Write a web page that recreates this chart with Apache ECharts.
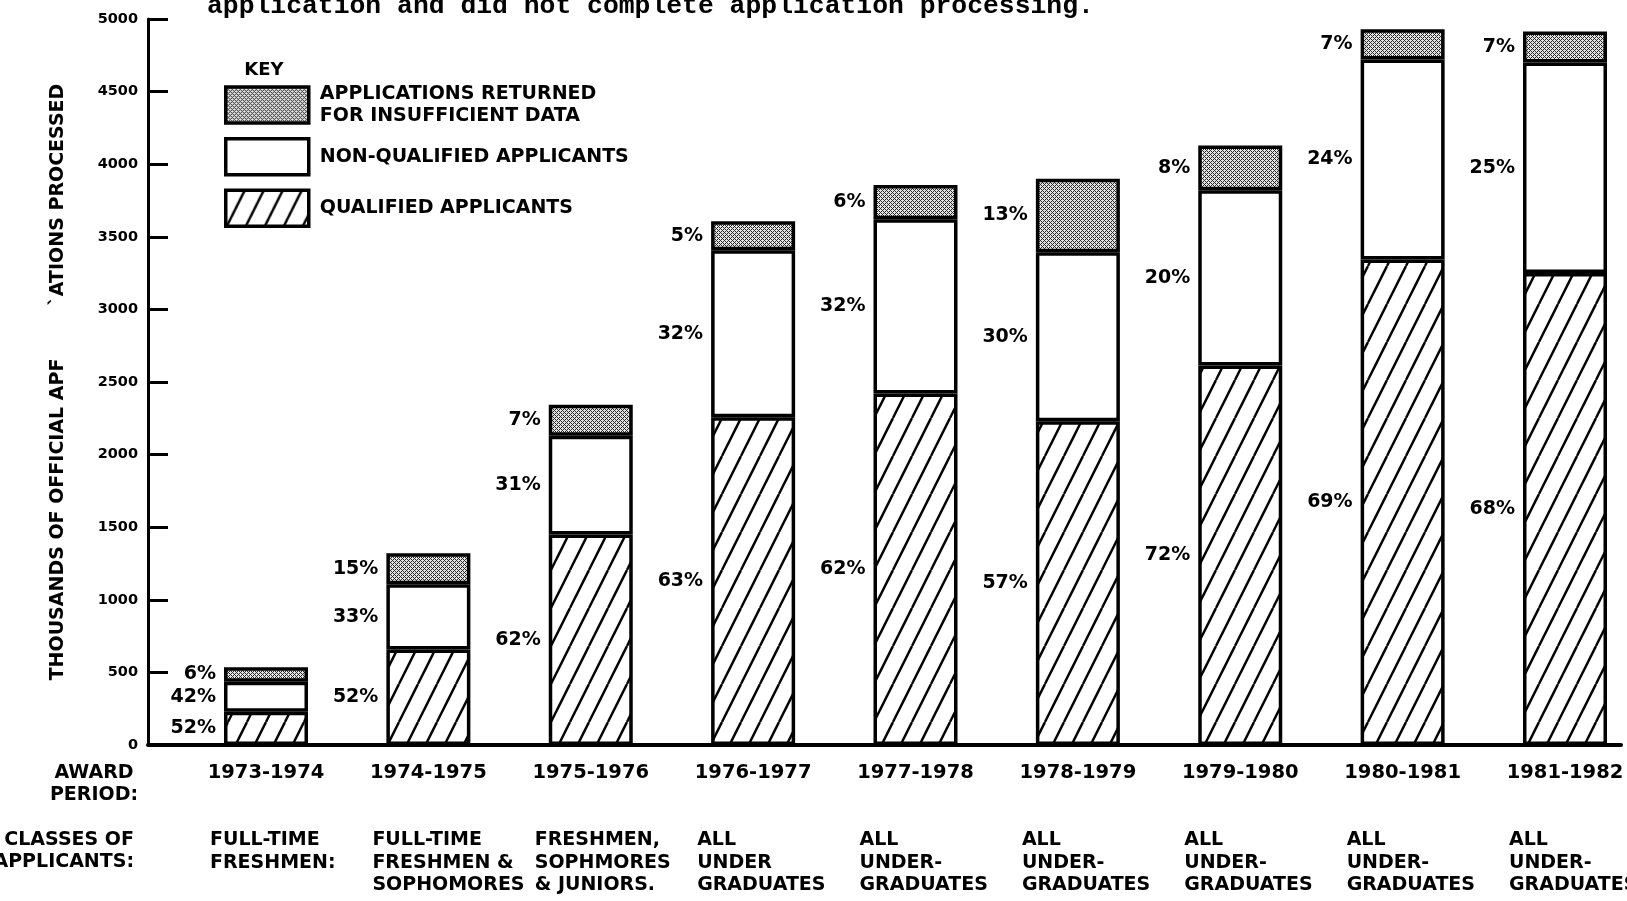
<!DOCTYPE html>
<html><head><meta charset="utf-8">
<script src="https://cdn.jsdelivr.net/npm/echarts@6/dist/echarts.min.js"></script>
<style>html,body{margin:0;padding:0;background:#fff}#c{width:1627px;height:901px}</style>
</head><body><div id="c"></div>
<script>
// ---- data ----
const periods = ['1973-1974','1974-1975','1975-1976','1976-1977','1977-1978','1978-1979','1979-1980','1980-1981','1981-1982'];
const classes = [
  ['FULL-TIME','FRESHMEN:'],
  ['FULL-TIME','FRESHMEN &','SOPHOMORES'],
  ['FRESHMEN,','SOPHMORES','& JUNIORS.'],
  ['ALL','UNDER','GRADUATES'],
  ['ALL','UNDER-','GRADUATES'],
  ['ALL','UNDER-','GRADUATES'],
  ['ALL','UNDER-','GRADUATES'],
  ['ALL','UNDER-','GRADUATES'],
  ['ALL','UNDER-','GRADUATES']
];
const qualified    = [229, 657, 1450, 2257, 2421, 2229, 2614, 3343, 3250];
const nonQualified = [207, 450,  679, 1150, 1200, 1164, 1207, 1378, 1450];
const returned     = [100, 214,  214,  200,  236,  507,  308,  208,  214];
const qualPct      = ['52%','52%','62%','63%','62%','57%','72%','69%','68%'];
const nonQualPct   = ['42%','33%','31%','32%','32%','30%','20%','24%','25%'];
const returnedPct  = ['6%','15%','7%','5%','6%','13%','8%','7%','7%'];
const yMin = 0, yMax = 5000, yStep = 500;

// ---- patterns ----
function hatchPattern(){
  const w = 19, h = 38, c = document.createElement('canvas');
  c.width = w; c.height = h;
  const g = c.getContext('2d');
  g.fillStyle = '#fff'; g.fillRect(0,0,w,h);
  g.strokeStyle = '#000'; g.lineWidth = 2.4;
  [-w, 0, w].forEach(o => { g.beginPath(); g.moveTo(o, h); g.lineTo(o + w, 0); g.stroke(); });
  return {image: c, repeat: 'repeat'};
}
function stipplePattern(){
  const n = 4, c = document.createElement('canvas');
  c.width = n; c.height = n;
  const g = c.getContext('2d');
  g.fillStyle = '#e4e4e4'; g.fillRect(0,0,n,n);
  g.fillStyle = '#2a2a2a';
  for (let x = 0; x < n; x++) for (let y = 0; y < n; y++) {
    if ((x + y) % 4 === 0 || (x - y + 4) % 4 === 0) g.fillRect(x, y, 1, 1);
  }
  return {image: c, repeat: 'repeat'};
}

const FONT = '"DejaVu Sans", "Liberation Sans", sans-serif';
const chart = echarts.init(document.getElementById('c'), null, {renderer: 'canvas'});

const NAME_Q = 'QUALIFIED APPLICANTS';
const NAME_N = 'NON-QUALIFIED APPLICANTS';
const NAME_R = 'APPLICATIONS RETURNED\nFOR INSUFFICIENT DATA';

function seriesOf(name, data, pcts, color){
  return {
    name, type: 'bar', stack: 'total', data, barWidth: 84, clip: false,
    xAxisIndex: 0, yAxisIndex: 0,
    itemStyle: {color, borderColor: '#000', borderWidth: 3.5},
    label: {show: true, position: 'left', distance: 8, color: '#000',
      fontFamily: FONT, fontWeight: 'bold', fontSize: 19,
      formatter: p => pcts[p.dataIndex]},
    emphasis: {disabled: true}
  };
}
const legendCommon = {
  orient: 'vertical', left: 224, padding: 0,
  itemWidth: 83, itemHeight: 36, itemGap: 12, icon: 'rect',
  selectedMode: false,
  itemStyle: {borderColor: '#000', borderWidth: 3.5},
  textStyle: {fontFamily: FONT, fontWeight: 'bold', fontSize: 19, lineHeight: 22, color: '#000', padding: [0,0,0,6]}
};

chart.setOption({
  animation: false,
  backgroundColor: '#fff',
  grid: [
    {left: 266, right: 62, top: 19, bottom: 156, containLabel: false, outerBoundsMode: 'none'},
    {left: 148, right: 6, top: 19, bottom: 156, containLabel: false, outerBoundsMode: 'none'}
  ],
  legend: [
    Object.assign({}, legendCommon, {top: 83, data: [NAME_R]}),
    Object.assign({}, legendCommon, {top: 137, data: [NAME_N, NAME_Q]})
  ],
  xAxis: [
    {type: 'category', gridIndex: 0, data: periods, boundaryGap: false,
      axisLine: {show: false}, axisTick: {show: false}, splitLine: {show: false},
      axisLabel: {
        interval: 0, margin: 16, hideOverlap: false,
        formatter: (v, i) => '{p|' + v + '}\n{s| }\n' + classes[i].map(t => '{c|' + t + '}').join('\n'),
        rich: {
          p: {width: 112, align: 'center', fontFamily: FONT, fontWeight: 'bold', fontSize: 19.5, lineHeight: 24, color: '#000'},
          s: {fontSize: 1, lineHeight: 44},
          c: {width: 112, align: 'left', fontFamily: FONT, fontWeight: 'bold', fontSize: 19, lineHeight: 22.5, color: '#000'}
        }
      }
    },
    {type: 'value', gridIndex: 1, min: 0, max: 1,
      axisLine: {show: true, lineStyle: {color: '#000', width: 4}},
      axisTick: {show: false}, axisLabel: {show: false}, splitLine: {show: false}}
  ],
  yAxis: [
    {type: 'value', gridIndex: 0, min: yMin, max: yMax, interval: yStep, show: false},
    {type: 'value', gridIndex: 1, min: yMin, max: yMax, interval: yStep,
      axisLine: {show: true, lineStyle: {color: '#000', width: 3}},
      axisTick: {show: true, inside: true, length: 20, lineStyle: {color: '#000', width: 3}},
      axisLabel: {margin: 10, fontFamily: FONT, fontWeight: 'bold', fontSize: 14.5, color: '#000', formatter: v => String(v)},
      splitLine: {show: false},
      name: 'THOUSANDS OF OFFICIAL APF        `ATIONS PROCESSED',
      nameLocation: 'middle', nameGap: 80,
      nameTextStyle: {fontFamily: FONT, fontWeight: 'bold', fontSize: 19, color: '#000'}
    }
  ],
  graphic: [
    {type: 'text', left: 207, top: -7, silent: true,
      style: {text: 'application and did not complete application processing.', font: 'bold 26.4px "Liberation Mono", "DejaVu Sans Mono", monospace', fill: '#000'}},
    {type: 'text', x: 264, y: 70, silent: true,
      style: {text: 'KEY', font: 'bold 18px ' + FONT, fill: '#000', align: 'center', verticalAlign: 'middle'}},
    {type: 'text', x: 94, y: 762, silent: true,
      style: {text: 'AWARD\nPERIOD:', font: 'bold 19px ' + FONT, fill: '#000', align: 'center', verticalAlign: 'top', lineHeight: 22}},
    {type: 'text', x: 134, y: 829, silent: true,
      style: {text: 'CLASSES OF\nAPPLICANTS:', font: 'bold 19px ' + FONT, fill: '#000', align: 'right', verticalAlign: 'top', lineHeight: 22}}
  ],
  series: [
    seriesOf(NAME_Q, qualified, qualPct, hatchPattern()),
    seriesOf(NAME_N, nonQualified, nonQualPct, '#fff'),
    seriesOf(NAME_R, returned, returnedPct, stipplePattern())
  ]
});
</script>
</body></html>
